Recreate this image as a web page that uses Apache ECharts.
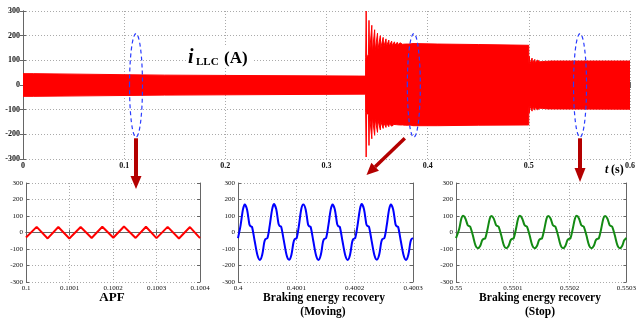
<!DOCTYPE html>
<html>
<head>
<meta charset="utf-8">
<script src="https://cdn.jsdelivr.net/npm/echarts@6/dist/echarts.min.js"></script>
<style>
  html, body { margin: 0; padding: 0; background: #fff; }
  #chart { width: 639px; height: 322px; }
</style>
</head>
<body>
<div id="chart"></div>
<script>
// ---- top trace i_LLC: envelope of the fast ripple ----
var bandT      = [0,    0.0101, 0.0102, 0.14, 0.1401, 0.3386];
var bandUpper  = [46,   46,     40,     40,   36,     36];
var bandLower  = [-46,  -46,    -41,    -41,  -37,    -37];

// start of braking (Moving): decaying spikes
var spike1T      = [0.3392, 0.3420, 0.3448, 0.3476, 0.3504, 0.3532, 0.3560, 0.3588, 0.3616, 0.3644, 0.3672, 0.3700, 0.3728, 0.3756, 0.3784, 0.3812, 0.3840];
var spike1Up     = [300, 262, 242, 224, 210, 200, 193, 187, 182, 178, 175, 173, 171, 170, 169, 168, 168];
var spike1UpGap  = [110, 125, 132, 138, 144, 150, 153, 156, 158, 160, 162, 163, 164, 165, 166, 166, 167];
var spike1Low    = [-292, -245, -218, -204, -192, -182, -176, -172, -169, -167, -166, -165, -165, -164, -164, -164, -164];
var spike1LowGap = [-110, -122, -130, -136, -142, -148, -152, -155, -157, -159, -160, -161, -162, -162, -163, -163, -163];

var midT      = [0.3855, 0.41, 0.45, 0.4999];
var midUpper  = [168, 166, 164, 161];
var midLower  = [-165, -165, -163, -162];

// stop: smaller spikes
var spike2T      = [0.5005, 0.5032, 0.5059, 0.5086, 0.5113, 0.5140, 0.5167, 0.5194, 0.5221];
var spike2Up     = [116, 109, 104, 101, 100, 99, 98, 98, 97];
var spike2UpGap  = [84, 88, 91, 93, 94, 95, 96, 96, 97];
var spike2Low    = [-113, -106, -102, -100, -99, -99, -98, -98, -98];
var spike2LowGap = [-84, -88, -91, -93, -94, -95, -96, -97, -97];

var endT     = [0.5235, 0.6];
var endUpper = [97, 97];
var endLower = [-98, -98];

// ---- zoomed windows (time offsets in microseconds) ----
var apfStart = 0.1;
var apfUs  = [0, 24.5, 49.8, 74.3, 99.6, 125.6, 150.9, 175.4, 200.7, 225.2, 252, 275.8, 300, 325.6, 351.6, 376.9, 400];
var apfVal = [-30, 34, -36, 33, -36, 33, -33, 35, -32, 36, -33, 35, -34, 34, -36, 33, -34];

var movStart = 0.4;
var movUs = [0, 4.5, 8.5,
  11.5, 15.5, 19.5, 21.5, 24, 28.5, 33.5, 37.5, 41.5, 45, 47, 50.5, 54.5, 58.5,
  61.5, 65.5, 69.5, 71.5, 74, 78.5, 83.5, 87.5, 91.5, 95, 97, 100.5, 104.5, 108.5,
  112, 116, 120, 122, 124.5, 129, 134, 138, 142, 145.5, 147.5, 151, 155, 159,
  162, 166, 170, 172, 174.5, 179, 184, 188, 192, 195.5, 197.5, 201, 205, 209,
  212, 216, 220, 222, 224.5, 229, 234, 238, 242, 245.5, 247.5, 251, 255, 259,
  262, 266, 270, 272, 274.5, 279, 284, 288, 292, 295.5, 297.5, 300];
var movVal = [-34, 45, 140,
  170, 140, 50, 38, 34, -50, -140, -166, -135, -60, -40, -33, 45, 140,
  172, 142, 52, 39, 35, -48, -140, -165, -136, -62, -41, -34, 44, 142,
  169, 139, 50, 38, 34, -50, -141, -166, -135, -60, -40, -33, 45, 140,
  170, 140, 51, 38, 34, -50, -140, -166, -136, -61, -40, -33, 45, 141,
  172, 141, 51, 39, 35, -49, -140, -165, -135, -60, -40, -33, 44, 140,
  170, 140, 50, 38, 34, -50, -140, -166, -135, -60, -40, -34];

var stopStart = 0.55;
var stopUs = [0, 5.5, 9.5,
  12.5, 16.5, 20.5, 22.5, 25, 29.5, 34.5, 38.5, 42.5, 46, 48, 51.5, 55.5, 59.5,
  62.5, 66.5, 70.5, 72.5, 75, 79.5, 84.5, 88.5, 92.5, 96, 98, 101.5, 105.5, 109.5,
  112.5, 116.5, 120.5, 122.5, 125, 129.5, 134.5, 138.5, 142.5, 146, 148, 151.5, 155.5, 159.5,
  162.5, 166.5, 170.5, 172.5, 175, 179.5, 184.5, 188.5, 192.5, 196, 198, 201.5, 205.5, 209.5,
  212.5, 216.5, 220.5, 222.5, 225, 229.5, 234.5, 238.5, 242.5, 246, 248, 251.5, 255.5, 259.5,
  262.5, 266.5, 270.5, 272.5, 275, 279.5, 284.5, 288.5, 292.5, 296, 298, 300];
var stopVal = [-34, 20, 85,
  102, 85, 45, 40, 36, -15, -80, -96, -82, -48, -40, -35, 20, 85,
  100, 84, 45, 40, 36, -15, -80, -95, -82, -48, -40, -35, 20, 86,
  101, 85, 46, 40, 36, -15, -80, -96, -82, -48, -40, -35, 20, 85,
  100, 85, 45, 40, 36, -15, -80, -96, -82, -48, -40, -35, 21, 85,
  101, 85, 45, 40, 36, -15, -80, -95, -82, -48, -40, -35, 20, 85,
  100, 85, 45, 40, 36, -15, -80, -96, -82, -48, -40, -32];

// circled spots on the top trace
var circleT = [0.1117, 0.3863, 0.5506];
var circleTop = 208, circleBottom = -212;

var FONT = "'Liberation Serif', 'Times New Roman', serif";
var chart = echarts.init(document.getElementById('chart'));

function fmt4(v) { return String(+v.toFixed(4)); }

function pairs(us, vals, t0) {
  return us.map(function (u, i) { return [t0 + u * 1e-6, vals[i]]; });
}

function envelope(up) {
  var pts = [], w = 0.0005;
  function band(ts, vs) { ts.forEach(function (t, i) { pts.push([t, vs[i]]); }); }
  function spikes(ts, peaks, gaps) {
    ts.forEach(function (t, i) {
      pts.push([t - w, gaps[i]], [t, peaks[i]], [t + w, gaps[i]]);
    });
  }
  band(bandT, up ? bandUpper : bandLower);
  spikes(spike1T, up ? spike1Up : spike1Low, up ? spike1UpGap : spike1LowGap);
  band(midT, up ? midUpper : midLower);
  spikes(spike2T, up ? spike2Up : spike2Low, up ? spike2UpGap : spike2LowGap);
  band(endT, up ? endUpper : endLower);
  return pts;
}

var grids = [
  { left: 23,  top: 11,  width: 607, height: 148 },
  { left: 26,  top: 183, width: 174, height: 99 },
  { left: 238, top: 183, width: 175, height: 99 },
  { left: 456, top: 183, width: 174, height: 99 }
];
var xRanges = [[0, 0.6, 0.1], [0.1, 0.1004, 0.0001], [0.4, 0.4003, 0.0001], [0.55, 0.5503, 0.0001]];
var labelSize = [8, 7, 7, 7];
var labelWeight = ['bold', 'normal', 'normal', 'normal'];

var xAxes = [], yAxes = [];
grids.forEach(function (g, i) {
  var r = xRanges[i];
  var line = { show: true, lineStyle: { color: '#666', width: 1 } };
  var tick = { show: true, inside: true, length: 3, lineStyle: { color: '#666' } };
  var split = { show: true, lineStyle: { color: '#aaa', type: [1, 2], width: 1 } };
  var lbl = { fontFamily: FONT, fontSize: labelSize[i], fontWeight: labelWeight[i], color: '#111', margin: 3 };
  xAxes.push({
    gridIndex: i, type: 'value', position: 'bottom', min: r[0], max: r[1], interval: r[2],
    axisLine: line, axisTick: tick, splitLine: split,
    axisLabel: Object.assign({ formatter: fmt4 }, lbl)
  });
  xAxes.push({
    gridIndex: i, type: 'value', position: 'top', min: r[0], max: r[1], interval: r[2],
    axisLine: line, axisTick: tick, splitLine: { show: false }, axisLabel: { show: false }
  });
  yAxes.push({
    gridIndex: i, type: 'value', position: 'left', min: -300, max: 300, interval: 100,
    axisLine: line, axisTick: tick, splitLine: split,
    axisLabel: lbl
  });
  yAxes.push({
    gridIndex: i, type: 'value', position: 'right', min: -300, max: 300, interval: 100,
    axisLine: line, axisTick: tick, splitLine: { show: false }, axisLabel: { show: false }
  });
});

function trace(idx, data, color, smooth) {
  return {
    type: 'line', xAxisIndex: idx * 2, yAxisIndex: idx * 2, data: data,
    showSymbol: false, symbol: 'none', smooth: smooth,
    lineStyle: { color: color, width: 2 }
  };
}

var option = {
  animation: false,
  backgroundColor: '#fff',
  grid: grids,
  xAxis: xAxes,
  yAxis: yAxes,
  series: [
    {
      type: 'line', xAxisIndex: 0, yAxisIndex: 0, data: envelope(true),
      showSymbol: false, symbol: 'none',
      lineStyle: { color: '#ff0000', width: 1 },
      areaStyle: { color: '#ff0000', opacity: 1, origin: 0 }
    },
    {
      type: 'line', xAxisIndex: 0, yAxisIndex: 0, data: envelope(false),
      showSymbol: false, symbol: 'none',
      lineStyle: { color: '#ff0000', width: 1 },
      areaStyle: { color: '#ff0000', opacity: 1, origin: 0 }
    },
    trace(1, pairs(apfUs, apfVal, apfStart), '#ff0000', false),
    trace(2, pairs(movUs, movVal, movStart), '#0000ff', 0.3),
    trace(3, pairs(stopUs, stopVal, stopStart), '#138a13', 0.3)
  ]
};
chart.setOption(option);

// annotations: dashed ellipses, arrows and labels
var ARROW = '#b40000';
function arrow(x0, y0, x1, y1, w, hl, hw) {
  var dx = x1 - x0, dy = y1 - y0, len = Math.sqrt(dx * dx + dy * dy);
  var ux = dx / len, uy = dy / len;
  var bx = x1 - ux * hl, by = y1 - uy * hl;
  return [
    { type: 'line', shape: { x1: x0, y1: y0, x2: bx, y2: by }, style: { stroke: ARROW, lineWidth: w }, z: 10 },
    { type: 'polygon', shape: { points: [[bx - uy * hw, by + ux * hw], [bx + uy * hw, by - ux * hw], [x1, y1]] },
      style: { fill: ARROW }, z: 10 }
  ];
}

var gfx = [];
var ellBottoms = [];
circleT.forEach(function (t) {
  var top = chart.convertToPixel({ xAxisIndex: 0, yAxisIndex: 0 }, [t, circleTop]);
  var bot = chart.convertToPixel({ xAxisIndex: 0, yAxisIndex: 0 }, [t, circleBottom]);
  ellBottoms.push(bot);
  gfx.push({
    type: 'ellipse', z: 10,
    shape: { cx: top[0], cy: (top[1] + bot[1]) / 2, rx: 6.5, ry: (bot[1] - top[1]) / 2 },
    style: { fill: null, stroke: '#2a3cff', lineWidth: 1.2, lineDash: [4, 3] }
  });
});
gfx = gfx.concat(arrow(ellBottoms[0][0], ellBottoms[0][1] + 1, ellBottoms[0][0], 189, 4, 13, 5.5));
gfx = gfx.concat(arrow(ellBottoms[1][0] - 9, ellBottoms[1][1] + 1, 366.5, 175, 3.5, 12, 5.5));
gfx = gfx.concat(arrow(ellBottoms[2][0], ellBottoms[2][1] + 1, ellBottoms[2][0], 182, 4, 14, 5.5));

gfx.push(
  { type: 'rect', z: 9, shape: { x: 186, y: 47, width: 66, height: 21 }, style: { fill: '#fff' } },
  { type: 'text', z: 11, style: { x: 188, y: 68, text: 'i', font: 'italic bold 20px ' + FONT, fill: '#000', verticalAlign: 'bottom' } },
  { type: 'text', z: 11, style: { x: 196, y: 67.5, text: 'LLC', font: 'bold 11px ' + FONT, fill: '#000', verticalAlign: 'bottom' } },
  { type: 'text', z: 11, style: { x: 224, y: 67, text: '(A)', font: 'bold 17px ' + FONT, fill: '#000', verticalAlign: 'bottom' } },
  { type: 'text', z: 11, style: { x: 605, y: 176, text: 't', font: 'italic bold 12px ' + FONT, fill: '#000', verticalAlign: 'bottom' } },
  { type: 'text', z: 11, style: { x: 611, y: 176, text: '(s)', font: 'bold 12px ' + FONT, fill: '#000', verticalAlign: 'bottom' } },
  { type: 'text', z: 11, style: { x: 112, y: 298, text: 'APF', font: 'bold 13px ' + FONT, fill: '#000', align: 'center', verticalAlign: 'middle' } },
  { type: 'text', z: 11, style: { x: 324, y: 298, text: 'Braking energy recovery', font: 'bold 11.5px ' + FONT, fill: '#000', align: 'center', verticalAlign: 'middle' } },
  { type: 'text', z: 11, style: { x: 323, y: 312, text: '(Moving)', font: 'bold 11.5px ' + FONT, fill: '#000', align: 'center', verticalAlign: 'middle' } },
  { type: 'text', z: 11, style: { x: 540, y: 298, text: 'Braking energy recovery', font: 'bold 11.5px ' + FONT, fill: '#000', align: 'center', verticalAlign: 'middle' } },
  { type: 'text', z: 11, style: { x: 540, y: 312, text: '(Stop)', font: 'bold 11.5px ' + FONT, fill: '#000', align: 'center', verticalAlign: 'middle' } }
);
chart.setOption({ graphic: gfx });
</script>
</body>
</html>
